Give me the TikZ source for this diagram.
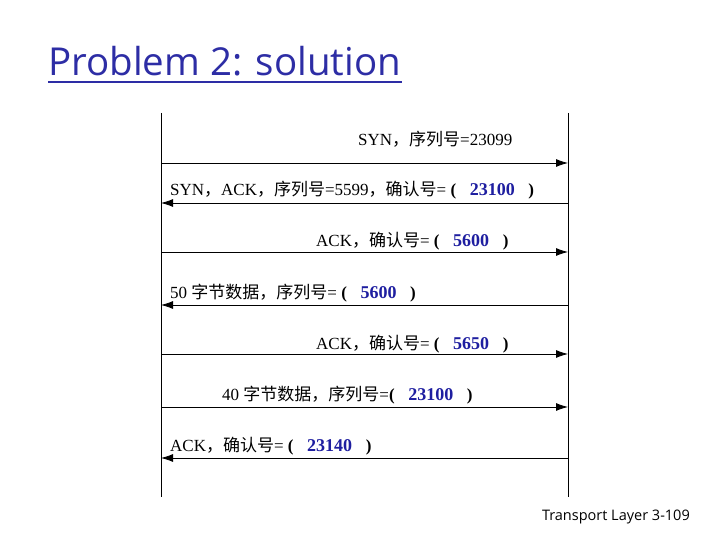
\documentclass[tikz,border=0pt]{standalone}
\usepackage{fontspec}
\usetikzlibrary{arrows.meta}
\setmainfont{Liberation Serif}
\newfontfamily\zhfont{Noto Sans CJK SC}
\newfontfamily\slidefont{Open Sans}
\definecolor{numblue}{RGB}{30,30,160}
\definecolor{titleblue}{RGB}{45,45,165}
\newcommand{\zh}[1]{{\zhfont #1}}
\newcommand{\val}[1]{\textbf{(}\hspace{0.8em}\textcolor{numblue}{\textbf{\fontsize{18}{18}\selectfont #1}}\hspace{0.8em}\textbf{)}}
\tikzset{
  msg/.style={-{Latex[length=12pt, width=8pt]}, thick},
  lbl/.style={anchor=base west, inner sep=0pt, font=\fontsize{17}{17}\selectfont}
}
\begin{document}
\begin{tikzpicture}[x=1pt, y=1pt, >=latex]
\useasboundingbox (0,0) rectangle (720,540);
% title and footer
\node[anchor=base west, inner sep=0pt, text=titleblue, font=\slidefont\fontsize{38.5}{38.5}\selectfont] (title) at (48,464) {Problem 2: solution};
\draw[titleblue, line width=2.5pt] (48,458) -- (402,458);
\node[anchor=base east, inner sep=0pt, font=\slidefont\fontsize{14.5}{14.5}\selectfont] (footer) at (690,19) {Transport Layer 3-109};
% the two hosts
\coordinate (ltop) at (161,427);
\coordinate (lbot) at (161,43);
\coordinate (rtop) at (568,427);
\coordinate (rbot) at (568,43);
\draw[semithick] (ltop) -- (lbot);
\draw[semithick] (rtop) -- (rbot);
% message rows
\foreach \i/\y in {1/163, 2/203, 3/252, 4/305, 5/354, 6/407, 7/458} {
  \coordinate (l\i) at (161, 540-\y);
  \coordinate (r\i) at (568, 540-\y);
}
\draw[msg] (l1) -- (r1);
\draw[msg] (r2) -- (l2);
\draw[msg] (l3) -- (r3);
\draw[msg] (r4) -- (l4);
\draw[msg] (l5) -- (r5);
\draw[msg] (l6) -- (r6);
\draw[msg] (r7) -- (l7);
% labels
\node[lbl] (syn) at (358,394) {SYN\zh{，序列号}=23099};
\node[lbl] (synack) at (170,344) {SYN\zh{，}ACK\zh{，序列号}=5599\zh{，确认号}= \val{23100}};
\node[lbl] (ack1) at (316,293) {ACK\zh{，确认号}= \val{5600}};
\node[lbl] (data50) at (170,241) {50 \zh{字节数据，序列号}= \val{5600}};
\node[lbl] (ack2) at (316,190) {ACK\zh{，确认号}= \val{5650}};
\node[lbl] (data40) at (222,139) {40 \zh{字节数据，序列号}=\val{23100}};
\node[lbl] (ack3) at (170,88) {ACK\zh{，确认号}= \val{23140}};
\end{tikzpicture}
\end{document}
